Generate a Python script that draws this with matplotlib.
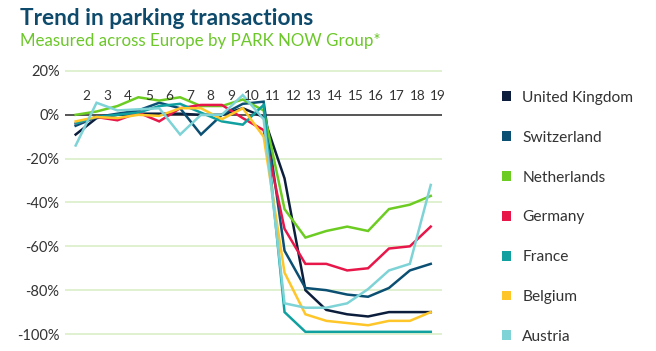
import numpy as np
import matplotlib
matplotlib.use("Agg")
import matplotlib.pyplot as plt
import matplotlib.patches as mpatches

plt.rcParams["font.family"] = ["Lato", "DejaVu Sans"]

# ── Daten (Wochen 2..19, Veränderung in %) ────────────────────────────────────
weeks = list(range(2, 20))

uk          = [-9, -1.5, 0, 0.5, 0.5, 0.5, 0, 0, 3, -1, -29, -80, -89, -91, -92, -90, -90, -90]
switzerland = [-5, -1, 0.5, 2, 5.5, 3, -9, 0, 5, 6, -62, -79, -80, -82, -83, -79, -71, -68]
netherlands = [0, 1.5, 4, 8, 6.5, 8, 4, 4, 7, 2, -43, -56, -53, -51, -53, -43, -41, -37]
germany     = [-4, -1, -2.5, 1, -3, 3, 4.5, 4.5, -1.5, -7, -52, -68, -68, -71, -70, -61, -60, -51]
france      = [-4, -1, 0, 1, 4, 5, 1, -3, -4.5, 4.5, -90, -99, -99, -99, -99, -99, -99, -99]
belgium     = [-3, -1, -1.5, 0, -0.5, 3, 3, -2, 3, -10, -72, -91, -94, -95, -96, -94, -94, -90]
austria     = [-14, 5.5, 2, 2.5, 3, -9, 0, 0, 9, -2, -86, -88, -88, -86, -79.5, -71, -68, -32]

countries = ["United Kingdom", "Switzerland", "Netherlands", "Germany",
             "France", "Belgium", "Austria"]
series = [uk, switzerland, netherlands, germany, france, belgium, austria]
colors = ["#0c1e3c", "#0b4f73", "#6dcc22", "#e8174a", "#10a0a0", "#ffc629", "#7dd3d6"]

y_ticks = [20, 0, -20, -40, -60, -80, -100]

# ── Plot ──────────────────────────────────────────────────────────────────────
fig = plt.figure(figsize=(6.56, 3.51), dpi=100)
ax = fig.add_axes([0.0991, 0.0359, 0.5747, 0.7744])

x = np.arange(len(weeks))
for yt in y_ticks:
    if yt == 0:
        ax.axhline(0, color="#555555", lw=1.4, zorder=1)
    else:
        ax.axhline(yt, color="#d6edc4", lw=1.1, zorder=0)

for vals, col in zip(series, colors):
    ax.plot(x, vals, color=col, lw=1.8, zorder=3, solid_joinstyle="miter")

# Wochen-Beschriftung oben im Diagramm
label_pos = np.linspace(0.53, 17.35, len(weeks))
for p, w in zip(label_pos, weeks):
    ax.text(p, 8.8, str(w), ha="center", va="center", fontsize=9.8, color="#333333")

ax.set_xlim(-0.51, 17.54)
ax.set_ylim(-102, 22)
ax.set_yticks(y_ticks)
ax.set_yticklabels([f"{v}%" for v in y_ticks], fontsize=10.5, color="#333333")
ax.tick_params(axis="y", length=0, pad=4)
ax.set_xticks([])
for s in ax.spines.values():
    s.set_visible(False)

fig.text(0.031, 0.978, "Trend in parking transactions", fontsize=16.3, fontweight="bold",
         color="#0d4a6b", va="top")
fig.text(0.031, 0.905, "Measured across Europe by PARK NOW Group*", fontsize=12.2,
         color="#6cc72a", va="top")

handles = [mpatches.Patch(facecolor=c, edgecolor="none") for c in colors]
fig.legend(handles, countries, loc="upper left", bbox_to_anchor=(0.744, 0.781),
           frameon=False, fontsize=11.2, handlelength=0.6, handleheight=0.6,
           handletextpad=0.7, labelspacing=1.66, labelcolor="#333333")

fig.savefig("out.png", dpi=100)
